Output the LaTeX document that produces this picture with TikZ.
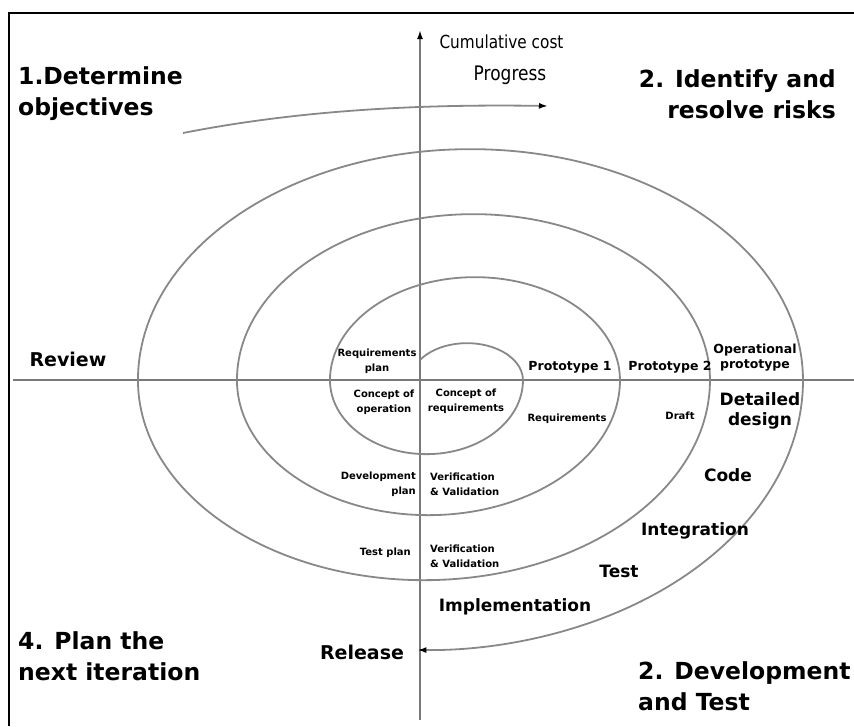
\documentclass[tikz,border=0pt]{standalone}
\usepackage{fontspec}
\setmainfont{DejaVu Sans}
\newfontfamily\narrowfont[FakeStretch=0.85]{DejaVu Sans}
\usetikzlibrary{arrows.meta}
\definecolor{spiralgray}{HTML}{888888}
\definecolor{axisgray}{HTML}{7A7A7A}
\tikzset{
	spiral/.style={spiralgray, line width=1.8pt},
	costaxis/.style={axisgray, line width=2.6pt},
	headarrow/.style={-{Latex[length=9pt,width=6pt,color=black]}},
	quadrant/.style={font=\fontsize{23.5}{31}\selectfont\bfseries, align=left, inner sep=0pt},
	phase/.style={font=\fontsize{17}{20}\selectfont\bfseries, inner sep=0pt},
	proto/.style={font=\fontsize{12.5}{15}\selectfont\bfseries, align=center, inner sep=0pt},
	smalllabel/.style={font=\fontsize{10}{15}\selectfont\bfseries, inner sep=0pt}
}
\begin{document}
\begin{tikzpicture}[x=1pt,y=-1pt]
		\useasboundingbox (0,0) rectangle (854,726);
		\draw[line width=2pt] (9,726) -- (9,13) -- (854,13);
		
		% axes
		\draw[costaxis] (13,380) -- (854,380);
		\draw[costaxis,headarrow] (420,720) -- (420,30);
		\node[anchor=west,font=\narrowfont\fontsize{18}{20}\selectfont] (cost) at (436,42) {Cumulative cost};
		
		% spiral, half ellipses round the origin
		\draw[spiral] (420,360)
			arc[start angle=213,end angle=360,x radius=56,y radius=37]
			arc[start angle=0,end angle=180,x radius=96.5,y radius=74]
			arc[start angle=180,end angle=360,x radius=145,y radius=103]
			arc[start angle=0,end angle=180,x radius=191.5,y radius=135]
			arc[start angle=180,end angle=360,x radius=236.5,y radius=166]
			arc[start angle=0,end angle=180,x radius=286,y radius=200]
			arc[start angle=180,end angle=360,x radius=332.5,y radius=231];
		\draw[spiral,headarrow] (803,380) arc[start angle=0,end angle=91,x radius=379,y radius=270];
		
		% progress
		\coordinate (progstart) at (183,133);
		\coordinate (progend) at (548,106);
		\draw[spiral,headarrow] (progstart) .. controls (300,110) and (420,104) .. (progend);
		\node[font=\narrowfont\fontsize{20}{22}\selectfont] (progress) at (510,75) {Progress};
		
		% quadrants
		\node[quadrant,anchor=west] (objectives) at (18,94) {1.Determine\\objectives};
		\node[quadrant,anchor=east,align=right] (risks) at (836,94) {2. Identify and\\resolve risks};
		\node[quadrant,anchor=west] (nextiter) at (18,656) {4. Plan the\\next iteration};
		\node[quadrant,anchor=west] (devtest) at (638,686) {2. Development\\and Test};
		
		\node[font=\fontsize{19}{22}\selectfont\bfseries] (review) at (68,359) {Review};
		\node[font=\fontsize{19}{22}\selectfont\bfseries] (release) at (362,652) {Release};
		
		% inner turns
		\node[smalllabel,align=center] (reqplan) at (377,361) {Requirements\\plan};
		\node[smalllabel,align=center] (conops) at (384,402) {Concept of\\operation};
		\node[smalllabel,align=center] (conreq) at (466,401) {Concept of\\requirements};
		\node[proto] (proto1) at (570,367) {Prototype 1};
		\node[proto] (proto2) at (670,367) {Prototype 2};
		\node[proto] (opproto) at (755,358) {Operational\\prototype};
		\node[smalllabel] (req) at (567,419) {Requirements};
		\node[smalllabel] (draft) at (680,416) {Draft};
		\node[smalllabel,align=right,anchor=east] (devplan) at (416,484) {Development\\plan};
		\node[smalllabel,align=left,anchor=west] (vvone) at (430,484) {Verification\\\& Validation};
		\node[smalllabel,anchor=east] (testplan) at (411,553) {Test plan};
		\node[smalllabel,align=left,anchor=west] (vvtwo) at (430,556) {Verification\\\& Validation};
		
		% outer turn
		\node[phase,align=center] (detdesign) at (760,411) {Detailed\\design};
		\node[phase] (code) at (728,475) {Code};
		\node[phase] (integ) at (695,531) {Integration};
		\node[phase] (test) at (619,571) {Test};
		\node[phase] (impl) at (515,607) {Implementation};
	\end{tikzpicture}
\end{document}
